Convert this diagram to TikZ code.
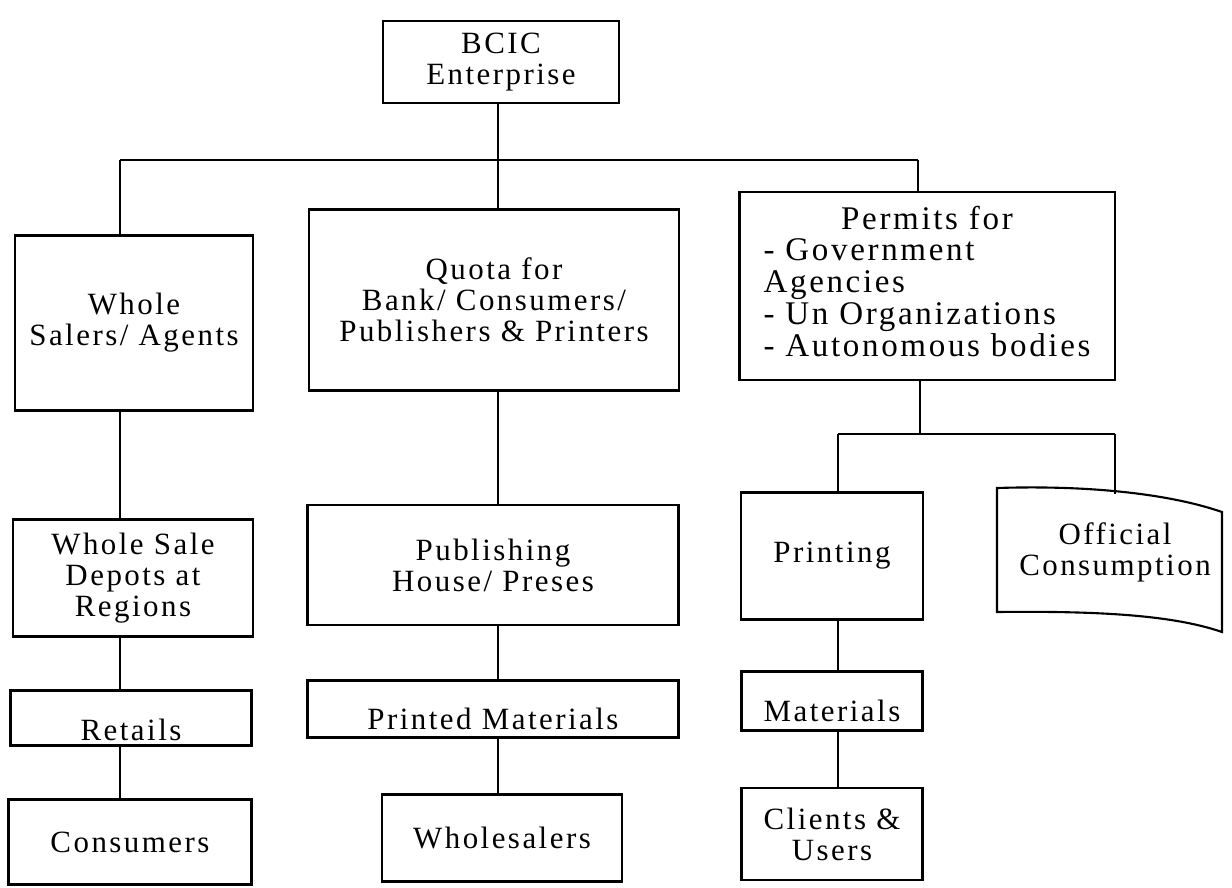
\documentclass[tikz,border=0pt]{standalone}
\usepackage{fontspec}
\newfontfamily\chartfont{Liberation Serif}[LetterSpace=8]

\begin{document}
\begin{tikzpicture}[
  x=0.025cm, y=-0.025cm,
  box/.style={rectangle, draw, line width=1.5pt, align=center, inner sep=2pt,
    font=\chartfont\fontsize{22}{22}\selectfont},
  lowbox/.style={box, inner ysep=0pt, text depth=#1},
  link/.style={line width=1.5pt},
]
\useasboundingbox (0,0) rectangle (1232,888);

% === TOP ===
\node[box, minimum width=5.9cm, minimum height=2.05cm] (bcic) at (501,62) {BCIC\\Enterprise};

\coordinate (busL) at (120,160);
\coordinate (bus) at (498,160);
\coordinate (busR) at (918,160);

% === THREE CHANNELS ===
\node[box, minimum width=5.95cm, minimum height=4.375cm] (ws) at (134,323) {Whole\\Salers/ Agents};
\node[box, minimum width=9.25cm, minimum height=4.525cm] (quota) at (494,300) {Quota for\\Bank/ Consumers/\\Publishers \& Printers};
\node[box, minimum width=9.375cm, minimum height=4.7cm, font=\chartfont\fontsize{23.5}{22.5}\selectfont] (permits) at (927,286)
  {\begin{tabular}{@{}l@{}}\multicolumn{1}{@{}c@{}}{Permits for}\\- Government\\Agencies\\- Un Organizations\\- Autonomous bodies\end{tabular}};

\draw[link] (busL) -- (busR);
\draw[link] (bcic.south -| bus) -- (quota.north -| bus);
\draw[link] (busL) -- (ws.north -| busL);
\draw[link] (busR) -- (permits.north -| busR);

% === WHOLE SALERS ===
\node[box, minimum width=6.0cm, minimum height=2.925cm] (depots) at (133,578) {Whole Sale\\Depots at\\Regions};
\node[lowbox=0.125cm, minimum width=6.025cm, text height=1.25cm] (retails) at (131,718) {Retails};
\node[box, minimum width=6.075cm, minimum height=2.125cm] (consumers) at (130,842) {Consumers};

\draw[link] (ws.south -| busL) -- (depots.north -| busL);
\draw[link] (depots.south -| busL) -- (retails.north -| busL);
\draw[link] (retails.south -| busL) -- (consumers.north -| busL);

% === QUOTA ===
\node[box, minimum width=9.275cm, minimum height=3.0cm] (publishing) at (493,565) {Publishing\\House/ Preses};
\node[lowbox=0.2cm, minimum width=9.275cm, text height=1.225cm] (printed) at (493,709) {Printed Materials};
\node[box, minimum width=6.0cm, minimum height=2.175cm] (wholesalers) at (502,838) {Wholesalers};

\draw[link] (quota.south -| bus) -- (publishing.north -| bus);
\draw[link] (publishing.south -| bus) -- (printed.north -| bus);
\draw[link] (printed.south -| bus) -- (wholesalers.north -| bus);

% === PERMITS ===
\coordinate (sub) at (920,434);
\coordinate (subL) at (838,434);
\coordinate (subR) at (1115,434);

\node[box, minimum width=4.55cm, minimum height=3.175cm] (printing) at (832,556) {Printing};
\node[box, draw=none, inner sep=0pt] (official) at (1115,552) {Official\\Consumption};
\draw[line width=1.5pt] (997,488) .. controls (1090,485) and (1170,494) .. (1222,512)
  -- (1222,632) .. controls (1170,614) and (1090,611) .. (997,612) -- cycle;
\coordinate (offtop) at (1115,494);
\node[lowbox=0.225cm, minimum width=4.525cm, text height=1.25cm] (materials) at (832,701) {Materials};
\node[box, minimum width=4.525cm, minimum height=2.3cm] (clients) at (832,834) {Clients \&\\Users};

\draw[link] (permits.south -| sub) -- (sub);
\draw[link] (subL) -- (subR);
\draw[link] (subL) -- (printing.north -| subL);
\draw[link] (subR) -- (offtop);
\draw[link] (printing.south -| subL) -- (materials.north -| subL);
\draw[link] (materials.south -| subL) -- (clients.north -| subL);
\end{tikzpicture}
\end{document}
